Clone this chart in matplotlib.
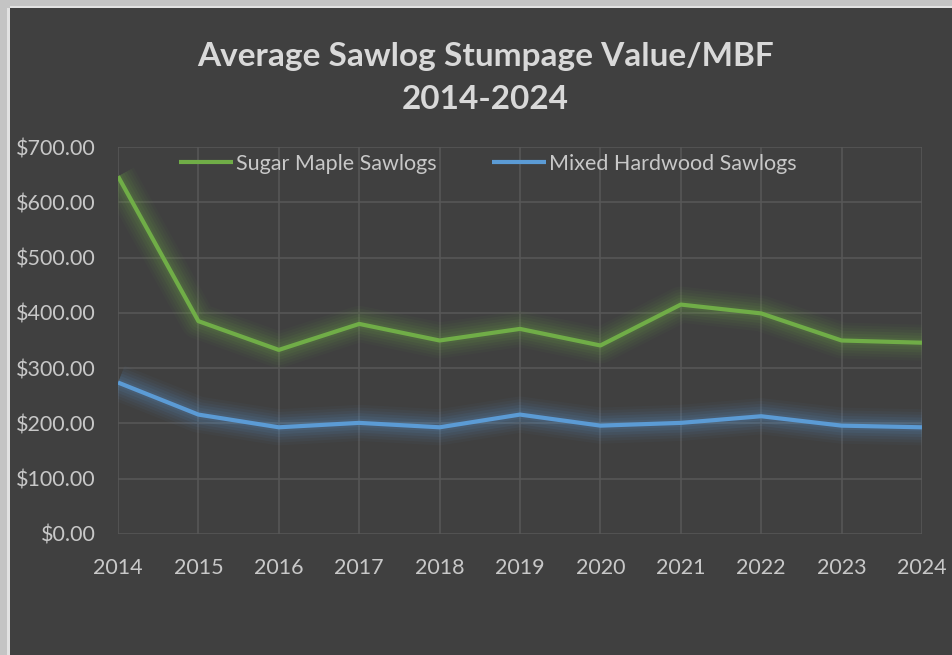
import matplotlib
matplotlib.use("Agg")
import matplotlib.pyplot as plt
from matplotlib.patches import Rectangle
from matplotlib.ticker import FuncFormatter, MultipleLocator

years = [2014, 2015, 2016, 2017, 2018, 2019, 2020, 2021, 2022, 2023, 2024]
sugar_maple = [647, 385, 333, 380, 350, 371, 341, 415, 399, 350, 346]
mixed_hardwood = [274, 216, 193, 201, 193, 216, 196, 201, 213, 196, 193]
series_names = ["Sugar Maple Sawlogs", "Mixed Hardwood Sawlogs"]
title_text = "Average Sawlog Stumpage Value/MBF\n2014-2024"

BG = "#404040"
TXT = "#d9d9d9"
TICK = "#c8c8c8"
GRID = "#585858"
GREEN = "#70ad47"
BLUE = "#5b9bd5"

plt.rcParams['font.family'] = ['Lato', 'DejaVu Sans']

W, H = 953, 655
fig = plt.figure(figsize=(W / 100, H / 100), dpi=100, facecolor=BG)

# frame borders (left and top)
fig.patches.append(Rectangle((0, 0), 10 / W, 1, transform=fig.transFigure,
                             facecolor="#c4c4c4", edgecolor="none", zorder=0))
fig.patches.append(Rectangle((7 / W, 0), 3 / W, 1, transform=fig.transFigure,
                             facecolor="#e2e2e2", edgecolor="none", zorder=0))
fig.patches.append(Rectangle((0, 1 - 8 / H), 1, 8 / H, transform=fig.transFigure,
                             facecolor="#c4c4c4", edgecolor="none", zorder=0))
fig.patches.append(Rectangle((10 / W, 1 - 8 / H), 1, 2 / H, transform=fig.transFigure,
                             facecolor="#e2e2e2", edgecolor="none", zorder=0))

left, right = 118 / W, 922 / W
bottom, top = 1 - 534 / H, 1 - 147 / H
ax = fig.add_axes([left, bottom, right - left, top - bottom])
ax.set_facecolor(BG)

def glow_plot(x, y, color, label):
    for lw, a in [(26, 0.04), (22, 0.05), (18, 0.06), (14, 0.08), (10, 0.09), (6, 0.1)]:
        ax.plot(x, y, color=color, lw=lw, alpha=a, solid_capstyle='butt',
                solid_joinstyle='round', zorder=2)
    ax.plot(x, y, color=color, lw=3, solid_capstyle='butt',
            solid_joinstyle='round', zorder=3, label=label)

glow_plot(years, sugar_maple, GREEN, series_names[0])
glow_plot(years, mixed_hardwood, BLUE, series_names[1])

ax.set_xlim(years[0], years[-1])
ax.set_ylim(0, 700)
ax.set_xticks(years)
ax.yaxis.set_major_locator(MultipleLocator(100))
ax.yaxis.set_major_formatter(FuncFormatter(lambda v, p: f"${v:,.2f}"))
ax.grid(True, color=GRID, lw=1.1, zorder=1)
ax.set_axisbelow(True)
for s in ax.spines.values():
    s.set_visible(False)
ax.tick_params(axis='both', length=0, colors=TICK, labelsize=15.5)
ax.tick_params(axis='y', pad=16)
ax.tick_params(axis='x', pad=17)

ax.legend(loc='upper center', bbox_to_anchor=(0.46, 1.032), ncol=2, frameon=False,
          fontsize=15.5, labelcolor=TICK, handlelength=2.5, handletextpad=0.15,
          columnspacing=2.55)

fig.text(0.509, 1 - 78 / H, title_text, ha='center', va='center',
         fontsize=24, fontweight='bold', color=TXT, linespacing=1.56)

fig.savefig("out.png", dpi=100, facecolor=BG)
